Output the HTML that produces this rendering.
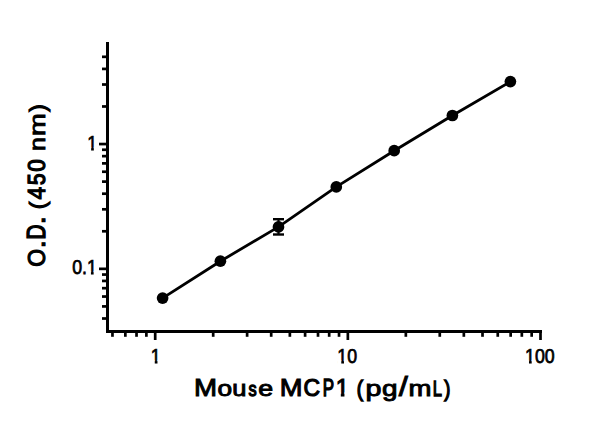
<!DOCTYPE html>
<html><head><meta charset="utf-8"><style>
html,body{margin:0;padding:0;background:#fff;}
svg{display:block;}
</style></head><body>
<svg width="600" height="421" viewBox="0 0 600 421">
<rect width="600" height="421" fill="#fff"/>
<line x1="107.5" y1="42" x2="107.5" y2="333.0" stroke="#000" stroke-width="3"/>
<line x1="106.0" y1="331.5" x2="542" y2="331.5" stroke="#000" stroke-width="3"/>
<line x1="112.46" y1="331.5" x2="112.46" y2="336.8" stroke="#000" stroke-width="2.7"/>
<line x1="125.36" y1="331.5" x2="125.36" y2="336.8" stroke="#000" stroke-width="2.7"/>
<line x1="136.53" y1="331.5" x2="136.53" y2="336.8" stroke="#000" stroke-width="2.7"/>
<line x1="146.38" y1="331.5" x2="146.38" y2="336.8" stroke="#000" stroke-width="2.7"/>
<line x1="155.20" y1="331.5" x2="155.20" y2="340.0" stroke="#000" stroke-width="2.7"/>
<line x1="213.19" y1="331.5" x2="213.19" y2="336.8" stroke="#000" stroke-width="2.7"/>
<line x1="247.12" y1="331.5" x2="247.12" y2="336.8" stroke="#000" stroke-width="2.7"/>
<line x1="271.19" y1="331.5" x2="271.19" y2="336.8" stroke="#000" stroke-width="2.7"/>
<line x1="289.86" y1="331.5" x2="289.86" y2="336.8" stroke="#000" stroke-width="2.7"/>
<line x1="305.11" y1="331.5" x2="305.11" y2="336.8" stroke="#000" stroke-width="2.7"/>
<line x1="318.01" y1="331.5" x2="318.01" y2="336.8" stroke="#000" stroke-width="2.7"/>
<line x1="329.18" y1="331.5" x2="329.18" y2="336.8" stroke="#000" stroke-width="2.7"/>
<line x1="339.03" y1="331.5" x2="339.03" y2="336.8" stroke="#000" stroke-width="2.7"/>
<line x1="347.85" y1="331.5" x2="347.85" y2="340.0" stroke="#000" stroke-width="2.7"/>
<line x1="405.84" y1="331.5" x2="405.84" y2="336.8" stroke="#000" stroke-width="2.7"/>
<line x1="439.77" y1="331.5" x2="439.77" y2="336.8" stroke="#000" stroke-width="2.7"/>
<line x1="463.84" y1="331.5" x2="463.84" y2="336.8" stroke="#000" stroke-width="2.7"/>
<line x1="482.51" y1="331.5" x2="482.51" y2="336.8" stroke="#000" stroke-width="2.7"/>
<line x1="497.76" y1="331.5" x2="497.76" y2="336.8" stroke="#000" stroke-width="2.7"/>
<line x1="510.66" y1="331.5" x2="510.66" y2="336.8" stroke="#000" stroke-width="2.7"/>
<line x1="521.83" y1="331.5" x2="521.83" y2="336.8" stroke="#000" stroke-width="2.7"/>
<line x1="531.68" y1="331.5" x2="531.68" y2="336.8" stroke="#000" stroke-width="2.7"/>
<line x1="540.50" y1="331.5" x2="540.50" y2="340.0" stroke="#000" stroke-width="2.7"/>
<line x1="102.0" y1="318.51" x2="107.5" y2="318.51" stroke="#000" stroke-width="2.7"/>
<line x1="102.0" y1="306.42" x2="107.5" y2="306.42" stroke="#000" stroke-width="2.7"/>
<line x1="102.0" y1="296.54" x2="107.5" y2="296.54" stroke="#000" stroke-width="2.7"/>
<line x1="102.0" y1="288.18" x2="107.5" y2="288.18" stroke="#000" stroke-width="2.7"/>
<line x1="102.0" y1="280.94" x2="107.5" y2="280.94" stroke="#000" stroke-width="2.7"/>
<line x1="102.0" y1="274.56" x2="107.5" y2="274.56" stroke="#000" stroke-width="2.7"/>
<line x1="99.0" y1="268.85" x2="107.5" y2="268.85" stroke="#000" stroke-width="2.7"/>
<line x1="102.0" y1="231.28" x2="107.5" y2="231.28" stroke="#000" stroke-width="2.7"/>
<line x1="102.0" y1="209.31" x2="107.5" y2="209.31" stroke="#000" stroke-width="2.7"/>
<line x1="102.0" y1="193.71" x2="107.5" y2="193.71" stroke="#000" stroke-width="2.7"/>
<line x1="102.0" y1="181.62" x2="107.5" y2="181.62" stroke="#000" stroke-width="2.7"/>
<line x1="102.0" y1="171.74" x2="107.5" y2="171.74" stroke="#000" stroke-width="2.7"/>
<line x1="102.0" y1="163.38" x2="107.5" y2="163.38" stroke="#000" stroke-width="2.7"/>
<line x1="102.0" y1="156.14" x2="107.5" y2="156.14" stroke="#000" stroke-width="2.7"/>
<line x1="102.0" y1="149.76" x2="107.5" y2="149.76" stroke="#000" stroke-width="2.7"/>
<line x1="99.0" y1="144.05" x2="107.5" y2="144.05" stroke="#000" stroke-width="2.7"/>
<line x1="102.0" y1="106.48" x2="107.5" y2="106.48" stroke="#000" stroke-width="2.7"/>
<line x1="102.0" y1="84.51" x2="107.5" y2="84.51" stroke="#000" stroke-width="2.7"/>
<line x1="102.0" y1="68.91" x2="107.5" y2="68.91" stroke="#000" stroke-width="2.7"/>
<line x1="102.0" y1="56.82" x2="107.5" y2="56.82" stroke="#000" stroke-width="2.7"/>
<path d="M162.6,298.1 L220.4,261.2 L278.5,226.9 L336.3,186.9 L394.2,150.7 L452.4,115.5 L510.4,81.6" fill="none" stroke="#000" stroke-width="2.8" stroke-linejoin="round"/>
<line x1="278.5" y1="219.2" x2="278.5" y2="234.5" stroke="#000" stroke-width="2.2"/>
<line x1="273.0" y1="219.2" x2="284.0" y2="219.2" stroke="#000" stroke-width="2.4"/>
<line x1="273.0" y1="234.5" x2="284.0" y2="234.5" stroke="#000" stroke-width="2.4"/>
<circle cx="162.6" cy="298.1" r="5.85" fill="#000"/>
<circle cx="220.4" cy="261.2" r="5.85" fill="#000"/>
<circle cx="278.5" cy="226.9" r="5.85" fill="#000"/>
<circle cx="336.3" cy="186.9" r="5.85" fill="#000"/>
<circle cx="394.2" cy="150.7" r="5.85" fill="#000"/>
<circle cx="452.4" cy="115.5" r="5.85" fill="#000"/>
<circle cx="510.4" cy="81.6" r="5.85" fill="#000"/>
<text x="155.8" y="363.3" text-anchor="middle" textLength="9.88" font-family="'Liberation Sans', Arial, sans-serif" font-size="20.9" fill="#000" stroke="#000" stroke-width="0.75" lengthAdjust="spacingAndGlyphs">1</text>
<text x="347.2" y="363.3" text-anchor="middle" textLength="19.75" font-family="'Liberation Sans', Arial, sans-serif" font-size="20.9" fill="#000" stroke="#000" stroke-width="0.75" lengthAdjust="spacingAndGlyphs">10</text>
<text x="539.9" y="363.3" text-anchor="middle" textLength="29.63" font-family="'Liberation Sans', Arial, sans-serif" font-size="20.9" fill="#000" stroke="#000" stroke-width="0.75" lengthAdjust="spacingAndGlyphs">100</text>
<text x="97.10" y="150.1" text-anchor="end" textLength="9.88" font-family="'Liberation Sans', Arial, sans-serif" font-size="20.9" fill="#000" stroke="#000" stroke-width="0.75" lengthAdjust="spacingAndGlyphs">1</text>
<text x="96.90" y="274.3" text-anchor="end" textLength="24.69" font-family="'Liberation Sans', Arial, sans-serif" font-size="20.9" fill="#000" stroke="#000" stroke-width="0.75" lengthAdjust="spacingAndGlyphs">0.1</text>
<rect x="150.71" y="360.36" width="4.05" height="4.51" fill="#fff"/>
<rect x="157.47" y="360.36" width="3.91" height="4.51" fill="#fff"/>
<rect x="337.23" y="360.36" width="4.05" height="4.51" fill="#fff"/>
<rect x="343.98" y="360.36" width="3.91" height="4.51" fill="#fff"/>
<rect x="524.94" y="360.36" width="4.05" height="4.51" fill="#fff"/>
<rect x="531.69" y="360.36" width="3.91" height="4.51" fill="#fff"/>
<rect x="87.08" y="147.16" width="4.05" height="4.51" fill="#fff"/>
<rect x="93.83" y="147.16" width="3.91" height="4.51" fill="#fff"/>
<rect x="86.88" y="271.36" width="4.05" height="4.51" fill="#fff"/>
<rect x="93.63" y="271.36" width="3.91" height="4.51" fill="#fff"/>
<text transform="translate(0,395.7)" y="0" font-family="'Liberation Sans', Arial, sans-serif" font-size="23" fill="#000" stroke="#000"><tspan x="194.07" y="0.00" font-size="23.47" stroke-width="0.95" textLength="23.06" lengthAdjust="spacingAndGlyphs">M</tspan><tspan x="217.40" y="0.00" font-size="21.81" stroke-width="0.95" textLength="14.59" lengthAdjust="spacingAndGlyphs">o</tspan><tspan x="232.29" y="0.00" font-size="22.02" stroke-width="0.95" textLength="14.16" lengthAdjust="spacingAndGlyphs">u</tspan><tspan x="248.41" y="0.00" font-size="20.86" stroke-width="1.40" textLength="8.12" lengthAdjust="spacingAndGlyphs">s</tspan><tspan x="258.15" y="0.00" font-size="21.81" stroke-width="0.95" textLength="14.85" lengthAdjust="spacingAndGlyphs">e</tspan> <tspan x="279.81" y="0.00" font-size="23.33" stroke-width="0.95" textLength="22.77" lengthAdjust="spacingAndGlyphs">M</tspan><tspan x="303.40" y="0.00" font-size="24.31" stroke-width="1.19" textLength="16.51" lengthAdjust="spacingAndGlyphs">C</tspan><tspan x="322.80" y="0.00" font-size="23.55" stroke-width="1.40" textLength="11.31" lengthAdjust="spacingAndGlyphs">P</tspan><tspan x="335.66" y="0.00" font-size="24.02" stroke-width="1.07" textLength="13.12" lengthAdjust="spacingAndGlyphs">1</tspan> <tspan x="356.66" y="0.00" font-size="21.90" stroke-width="1.40" textLength="6.31" lengthAdjust="spacingAndGlyphs">(</tspan><tspan x="365.44" y="0.00" font-size="22.88" stroke-width="0.95" textLength="15.97" lengthAdjust="spacingAndGlyphs">p</tspan><tspan x="381.96" y="0.00" font-size="22.91" stroke-width="0.95" textLength="15.50" lengthAdjust="spacingAndGlyphs">g</tspan><tspan x="398.71" y="0.00" font-size="26.89" stroke-width="0.95" textLength="9.07" lengthAdjust="spacingAndGlyphs">/</tspan><tspan x="408.52" y="0.00" font-size="22.77" stroke-width="0.95" textLength="22.95" lengthAdjust="spacingAndGlyphs">m</tspan><tspan x="432.80" y="0.00" font-size="22.97" stroke-width="1.40" textLength="9.20" lengthAdjust="spacingAndGlyphs">L</tspan><tspan x="444.16" y="0.00" font-size="22.22" stroke-width="1.40" textLength="6.12" lengthAdjust="spacingAndGlyphs">)</tspan></text>
<rect x="335.45" y="392.37" width="5.36" height="5.07" fill="#fff"/>
<rect x="344.45" y="392.37" width="5.17" height="5.07" fill="#fff"/>
<text transform="translate(44.9,267.5) rotate(-90)" y="0" font-family="'Liberation Sans', Arial, sans-serif" font-size="23" fill="#000" stroke="#000"><tspan x="0.77" y="0.00" font-size="24.07" stroke-width="1.16" textLength="17.88" lengthAdjust="spacingAndGlyphs">O</tspan><tspan x="19.14" y="0.00" font-size="27.00" stroke-width="1.00" textLength="8.63" lengthAdjust="spacingAndGlyphs">.</tspan><tspan x="28.05" y="0.00" font-size="24.86" stroke-width="1.40" textLength="14.98" lengthAdjust="spacingAndGlyphs">D</tspan><tspan x="43.14" y="0.00" font-size="27.00" stroke-width="1.00" textLength="8.63" lengthAdjust="spacingAndGlyphs">.</tspan> <tspan x="58.23" y="0.00" font-size="22.86" stroke-width="1.10" textLength="7.65" lengthAdjust="spacingAndGlyphs">(</tspan><tspan x="68.06" y="0.00" font-size="24.63" stroke-width="1.26" textLength="12.53" lengthAdjust="spacingAndGlyphs">4</tspan><tspan x="82.54" y="0.00" font-size="23.07" stroke-width="1.40" textLength="11.47" lengthAdjust="spacingAndGlyphs">5</tspan><tspan x="95.70" y="0.00" font-size="23.97" stroke-width="1.23" textLength="12.50" lengthAdjust="spacingAndGlyphs">0</tspan> <tspan x="116.62" y="0.00" font-size="22.77" stroke-width="0.95" textLength="13.83" lengthAdjust="spacingAndGlyphs">n</tspan><tspan x="131.43" y="0.00" font-size="22.77" stroke-width="0.95" textLength="22.82" lengthAdjust="spacingAndGlyphs">m</tspan><tspan x="155.75" y="0.00" font-size="22.88" stroke-width="1.19" textLength="7.46" lengthAdjust="spacingAndGlyphs">)</tspan></text>
</svg>
</body></html>
